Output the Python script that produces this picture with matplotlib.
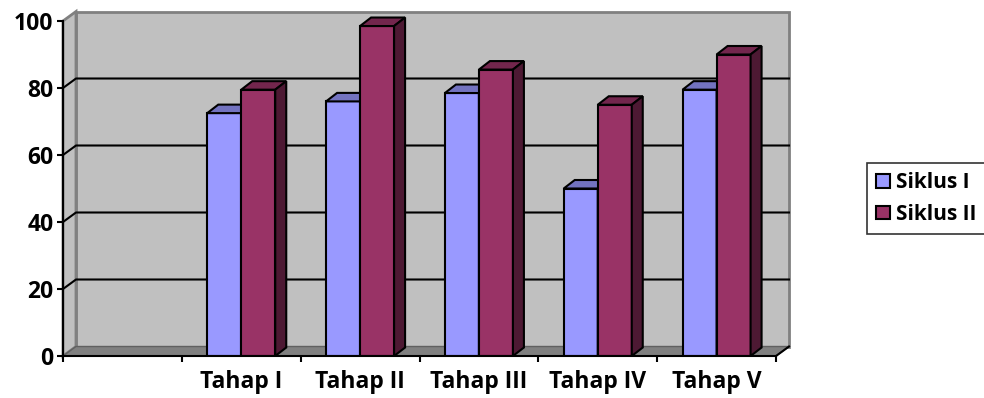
import matplotlib.pyplot as plt
from matplotlib.patches import Polygon, Patch

# values per stage
categories = ['', 'Tahap I', 'Tahap II', 'Tahap III', 'Tahap IV', 'Tahap V']
siklus_1 = [72.5, 76, 78.5, 50, 79.5]
siklus_2 = [79.5, 98.5, 85.5, 75, 90]
series_names = ['Siklus I', 'Siklus II']
y_ticks = [0, 20, 40, 60, 80, 100]

front_cols = ['#9999FF', '#993366']
top_cols = ['#7373C0', '#73264D']
side_cols = ['#4D4D80', '#4D1933']

plt.rcParams['font.family'] = ['Open Sans', 'DejaVu Sans']
FS = 16.5

fig = plt.figure(figsize=(9.84, 3.98), dpi=100)
ax = fig.add_axes([63 / 984, 42 / 398, 713 / 984, 335 / 398])
ax.set_xlim(0, len(categories))
ax.set_ylim(0, 100)
ax.patch.set_visible(False)

# pixel -> data conversions for the fake depth
px_x = len(categories) / 713
px_y = 100 / 335
wdx, wdy = 13 * px_x, 9.5 * px_y   # wall depth
bdx, bdy = 11 * px_x, 8.5 * px_y   # bar depth
n = len(categories)

# back wall, side wall and floor
ax.add_patch(Polygon([(wdx, wdy), (n + wdx, wdy), (n + wdx, 100 + wdy), (wdx, 100 + wdy)],
                     closed=True, facecolor='#C0C0C0', edgecolor='#808080', lw=2, zorder=0, clip_on=False))
ax.add_patch(Polygon([(0, 0), (wdx, wdy), (wdx, 100 + wdy), (0, 100)],
                     closed=True, facecolor='#C0C0C0', edgecolor='#808080', lw=2, zorder=0, clip_on=False))
ax.add_patch(Polygon([(0, 0), (n, 0), (n + wdx, wdy), (wdx, wdy)],
                     closed=True, facecolor='#808080', edgecolor='#606060', lw=1, zorder=0.5, clip_on=False))
ax.plot([n, n + wdx], [0, wdy], color='black', lw=1.5, zorder=0.6, clip_on=False)

# gridlines on the walls
for v in y_ticks[1:-1]:
    ax.plot([0, wdx, n + wdx], [v, v + wdy, v + wdy], color='black', lw=1.5, zorder=1, clip_on=False)

# 3d-looking columns
bw = 34 * px_x
for k in range(len(siklus_1)):
    c = k + 1.5
    for s, vals in enumerate([siklus_1, siklus_2]):
        x0 = c - bw if s == 0 else c
        h = vals[k]
        z = 2 + k + s * 0.5
        ax.bar(x0, h, width=bw, align='edge', color=front_cols[s], edgecolor='black', lw=1.5, zorder=z)
        ax.add_patch(Polygon([(x0, h), (x0 + bdx, h + bdy), (x0 + bw + bdx, h + bdy), (x0 + bw, h)],
                             closed=True, facecolor=top_cols[s], edgecolor='black', lw=1.5, zorder=z, clip_on=False))
        ax.add_patch(Polygon([(x0 + bw, 0), (x0 + bw + bdx, bdy), (x0 + bw + bdx, h + bdy), (x0 + bw, h)],
                             closed=True, facecolor=side_cols[s], edgecolor='black', lw=1.5, zorder=z, clip_on=False))

# axes
for sp in ['top', 'right']:
    ax.spines[sp].set_visible(False)
for sp in ['left', 'bottom']:
    ax.spines[sp].set_linewidth(1.5)
    ax.spines[sp].set_zorder(20)

ax.set_yticks(y_ticks)
ax.set_yticklabels([str(t) for t in y_ticks], fontsize=FS, fontweight='bold')
ax.tick_params(axis='y', direction='out', length=4, width=1.5, pad=3)

ax.set_xticks(range(n + 1))
ax.set_xticklabels([])
ax.tick_params(axis='x', which='major', direction='out', length=4, width=1.5)
ax.set_xticks([i + 0.5 for i in range(n)], minor=True)
ax.set_xticklabels(categories, minor=True, fontsize=FS, fontweight='bold')
ax.tick_params(axis='x', which='minor', length=0, pad=10)

handles = [Patch(facecolor=front_cols[i], edgecolor='black', lw=1.5, label=series_names[i]) for i in range(2)]
leg = fig.legend(handles=handles, loc='upper left', bbox_to_anchor=(867 / 984, 1 - 163 / 398),
                 prop={'size': 15, 'weight': 'bold'}, fancybox=False, edgecolor='black',
                 handlelength=0.65, handleheight=0.65, handletextpad=0.3, labelspacing=0.5,
                 borderpad=0.45, borderaxespad=0)
leg.get_frame().set_linewidth(1.2)

fig.savefig('out.png', dpi=100)
